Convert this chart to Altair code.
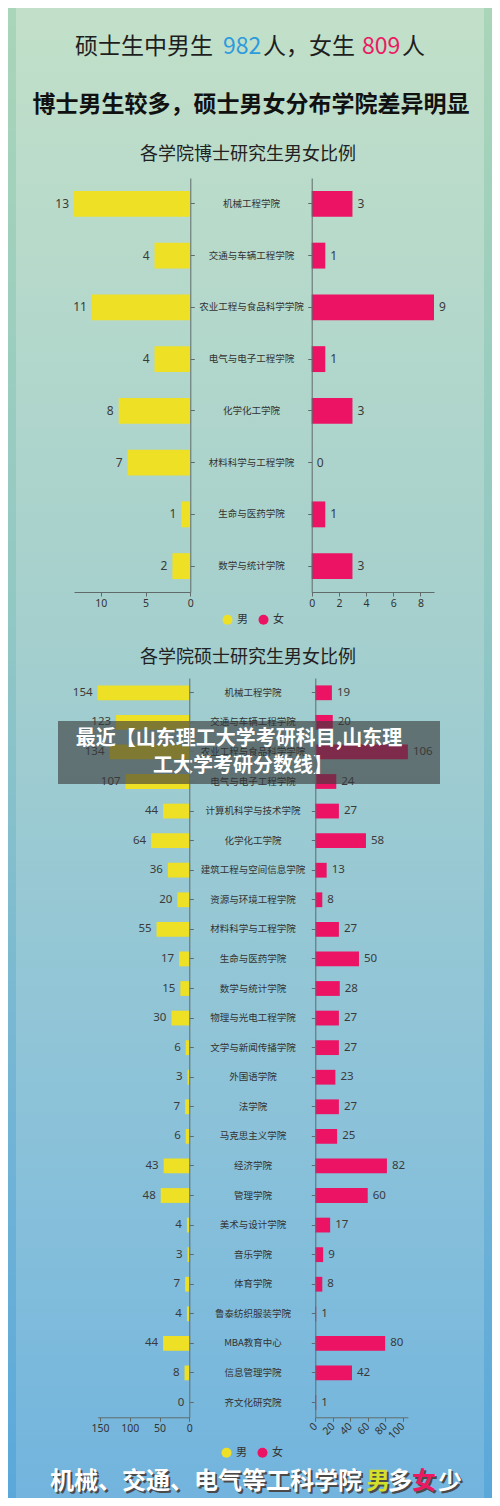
import altair as alt
import pandas as pd

W, H = 484, 1490
CJK = "Noto Sans CJK SC"
NUM = "Noto Sans"

# ---------------- data ----------------
doc_colleges = ["机械工程学院", "交通与车辆工程学院", "农业工程与食品科学学院", "电气与电子工程学院",
                "化学化工学院", "材料科学与工程学院", "生命与医药学院", "数学与统计学院"]
doc_male = [13, 4, 11, 4, 8, 7, 1, 2]
doc_female = [3, 1, 9, 1, 3, 0, 1, 3]

ms_colleges = ["机械工程学院", "交通与车辆工程学院", "农业工程与食品科学学院", "电气与电子工程学院",
               "计算机科学与技术学院", "化学化工学院", "建筑工程与空间信息学院", "资源与环境工程学院",
               "材料科学与工程学院", "生命与医药学院", "数学与统计学院", "物理与光电工程学院",
               "文学与新闻传播学院", "外国语学院", "法学院", "马克思主义学院", "经济学院", "管理学院",
               "美术与设计学院", "音乐学院", "体育学院", "鲁泰纺织服装学院", "MBA教育中心",
               "信息管理学院", "齐文化研究院"]
ms_male = [154, 123, 134, 107, 44, 64, 36, 20, 55, 17, 15, 30, 6, 3, 7, 6, 43, 48, 4, 3, 7, 4, 44, 8, 0]
ms_female = [19, 20, 106, 24, 27, 58, 13, 8, 27, 50, 28, 27, 27, 23, 27, 25, 82, 60, 17, 9, 8, 1, 80, 42, 1]

genders = ["男", "女"]
gender_colors = ["#eee024", "#ec1264"]

doc_left_ticks = [0, 5, 10]
doc_right_ticks = [0, 2, 4, 6, 8]
ms_left_ticks = [0, 50, 100, 150]
ms_right_ticks = [0, 20, 40, 60, 80, 100]

headline1 = ["硕士生中男生", "982", "人，女生", "809", "人"]
headline1_colors = ["#1e1e1e", "#2d9bdc", "#1e1e1e", "#ea1a62", "#1e1e1e"]
headline2 = "博士男生较多，硕士男女分布学院差异明显"
doc_title = "各学院博士研究生男女比例"
ms_title = "各学院硕士研究生男女比例"
banner_lines = ["最近【山东理工大学考研科目,山东理", "工大学考研分数线】"]
footer_parts = ["机械、交通、电气等工科学院", "男", "多", "女", "少"]
footer_colors = ["#ffffff", "#d3df2a", "#ffffff", "#ea1a62", "#ffffff"]

one = pd.DataFrame({"k": [0]})


def grad(stops):
    return alt.LinearGradient(gradient="linear", x1=0, x2=0, y1=0, y2=1,
                              stops=[alt.GradientStop(color=c, offset=o) for o, c in stops])


def rect(x1, x2, y1, y2, **kw):
    return alt.Chart(one).mark_rect(**kw).encode(
        x=alt.value(x1), x2=alt.value(x2), y=alt.value(y1), y2=alt.value(y2))


def label(txt, x, y, size, color, weight="normal", align="center", font=CJK, dx=0, dy=0):
    return alt.Chart(one).mark_text(text=txt, fontSize=size, color=color, fontWeight=weight,
                                    align=align, baseline="middle", font=font, dx=dx, dy=dy).encode(
        x=alt.value(x), y=alt.value(y))


def side(colleges, values, gender, xdom, xrange, yrange, y_axis, x_axis, legend,
         label_align, label_dx, fsize):
    df = pd.DataFrame({"college": colleges, "n": values, "g": [gender] * len(colleges)})
    xsc = alt.Scale(domain=xdom, range=xrange, nice=False, zero=True)
    ysc = alt.Scale(domain=colleges, range=yrange, paddingInner=0.5, paddingOuter=0.25)
    base = alt.Chart(df)
    bars = base.mark_bar().encode(
        x=alt.X("n:Q", scale=xsc, axis=x_axis, title=None),
        y=alt.Y("college:N", scale=ysc, sort=colleges, axis=y_axis, title=None),
        color=alt.Color("g:N", scale=alt.Scale(domain=genders, range=gender_colors),
                        legend=legend, title=None),
    )
    txt = base.mark_text(align=label_align, dx=label_dx, baseline="middle", font=NUM,
                         fontSize=fsize, color="#3a3a3a").encode(
        x=alt.X("n:Q", scale=xsc, axis=None),
        y=alt.Y("college:N", scale=ysc, sort=colleges, axis=None),
        text="n:Q",
    )
    return [bars, txt]


AX = dict(domainColor="#5f6b6b", tickColor="#5f6b6b", tickSize=4, grid=False, zindex=1,
          labelColor="#333333", labelFont=NUM, labelOverlap=False, labelFlush=False, title=None)


def x_axis(values, y_pos, angle=0, fsize=10.5):
    kw = dict(AX)
    kw.update(orient="bottom", offset=y_pos - H, values=values, labelFontSize=fsize,
              labelPadding=2, format="d")
    if angle:
        kw.update(labelAngle=angle, labelAlign="right", labelBaseline="middle", labelPadding=3)
    return alt.Axis(**kw)


def y_axis_names(x_pos, pad):
    kw = dict(AX)
    kw.update(orient="right", offset=x_pos - W, labelAlign="center", labelBaseline="middle",
              labelPadding=pad, labelFont=CJK, labelFontSize=9.5, labelLimit=220)
    return alt.Axis(**kw)


def y_axis_plain(x_pos):
    kw = dict(AX)
    kw.update(orient="left", offset=-x_pos, labels=False)
    return alt.Axis(**kw)


def legend_at(lx, ly):
    return alt.Legend(orient="none", legendX=lx, legendY=ly, direction="horizontal",
                      symbolType="circle", symbolSize=100, symbolStrokeWidth=0, padding=0,
                      labelFont=CJK, labelFontSize=11, labelColor="#333333",
                      columnPadding=10, labelOffset=4, zindex=1)


layers = []
# background
layers.append(rect(0, W, 0, H, fill=grad([(0, "#a9d5b8"), (0.4, "#92c8c4"), (0.75, "#72b4d6"), (1, "#5aa8da")])))
layers.append(rect(8, 476, 0, H, fill=grad([(0, "#c2e0c9"), (0.4, "#a6d0cd"), (0.75, "#8bc2d9"), (1, "#72b4de")])))

# headlines
h1_x = [67, 215, 255, 354, 394]
for t, c, x in zip(headline1, headline1_colors, h1_x):
    layers.append(label(t, x, 39, 23, c, align="left"))
layers.append(label(headline2, 243, 97, 23, "#111111", weight="bold"))
layers.append(label(doc_title, 240, 147, 18, "#222222"))
layers.append(label(ms_title, 240, 650, 18, "#222222"))

# doctoral chart
doc_y = [170, 584]
layers += side(doc_colleges, doc_male, "男", [0, 13], [182.3, 66], doc_y,
               y_axis_names(182.3, 56.7), x_axis(doc_left_ticks, 584), legend_at(214, 606),
               "right", -5, 12)
layers += side(doc_colleges, doc_female, "女", [0, 9], [303.7, 426], doc_y,
               y_axis_plain(303.7), x_axis(doc_right_ticks, 584), None,
               "left", 5, 12)

# master chart
ms_y = [670, 1409.3]
layers += side(ms_colleges, ms_male, "男", [0, 154], [181.3, 89.6], ms_y,
               y_axis_names(181.3, 59.2), x_axis(ms_left_ticks, 1409.3), legend_at(213, 1439),
               "right", -5, 11.5)
layers += side(ms_colleges, ms_female, "女", [0, 106], [307.3, 399.9], ms_y,
               y_axis_plain(307.3), x_axis(ms_right_ticks, 1409.3, angle=315), None,
               "left", 5, 11.5)

# overlay banner
layers.append(rect(50, 432, 713, 776, fill="#3a3a3a", opacity=0.62))
layers.append(label(banner_lines[0], 231, 731, 20, "#ffffff", weight="bold"))
layers.append(label(banner_lines[1], 235, 758, 20, "#ffffff", weight="bold"))

# footer
f_x = [42, 358, 380, 404, 430]
for t, x in zip(footer_parts, f_x):
    layers.append(label(t, x, 1474, 24, "#4a4a4a", weight="bold", align="left", dx=2, dy=2))
for t, c, x in zip(footer_parts, footer_colors, f_x):
    layers.append(label(t, x, 1474, 24, c, weight="bold", align="left"))

chart = alt.layer(*layers).resolve_scale(
    x="independent", y="independent", color="independent"
).properties(
    width=W, height=H, padding=0, autosize=alt.AutoSizeParams(type="none"), background="#ffffff"
).configure_view(stroke="transparent")

chart.save("out.html", embed_options={"renderer": "svg", "actions": False})
